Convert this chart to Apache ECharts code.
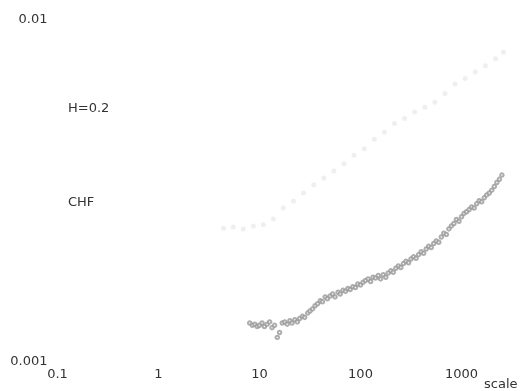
<!DOCTYPE html>
<html>
<head>
<meta charset="utf-8">
<script src="https://cdn.jsdelivr.net/npm/echarts@6/dist/echarts.min.js"></script>
<style>
  html, body { margin: 0; padding: 0; background: #fff; }
  #chart { width: 524px; height: 391px; }
</style>
</head>
<body>
<div id="chart"></div>
<script>
// tick labels
const xTicks = ['0.1', '1', '10', '100', '1000'];
const yTicks = ['0.001', '0.01'];

// CHF series (scale, DFA/scale)
const chfScale = [8, 8.5, 9, 9.5, 10, 10.6, 11.2, 11.9, 12.6, 13.3, 14.1, 15, 15.8, 16.8, 17.8, 18.8,
  20, 21, 22.4, 23.7, 25, 26.6, 28, 30, 31.6, 33.5, 35.5, 37.6, 40, 42, 44.7, 47, 50, 53, 56, 60,
  63, 67, 71, 75, 79, 84, 89, 94, 100, 106, 112, 119, 126, 133, 141, 150, 158, 168, 178, 188,
  200, 211, 224, 237, 251, 266, 282, 299, 316, 335, 355, 376, 398, 422, 447, 473, 501, 531, 562,
  596, 631, 668, 708, 750, 794, 841, 891, 944, 1000, 1059, 1122, 1189, 1259, 1334, 1413, 1496,
  1585, 1679, 1778, 1884, 1995, 2113, 2239, 2371, 2512];
const chfValue = [0.00130, 0.00128, 0.00129, 0.00127, 0.00128, 0.00130, 0.00127, 0.00129, 0.00131, 0.00126,
  0.00128, 0.00118, 0.00122, 0.00130, 0.00131, 0.00129,
  0.00132, 0.00130, 0.00133, 0.00131, 0.00134, 0.00136, 0.00135, 0.00139, 0.00141, 0.00143, 0.00146,
  0.00148, 0.00151, 0.00150, 0.00155, 0.00153, 0.00156, 0.00158, 0.00155, 0.00160,
  0.00158, 0.00162, 0.00161, 0.00164, 0.00163, 0.00166, 0.00165, 0.00169, 0.00168, 0.00171, 0.00173,
  0.00175, 0.00172, 0.00177, 0.00176, 0.00179, 0.00175, 0.00180, 0.00177, 0.00182,
  0.00185, 0.00183, 0.00188, 0.00191, 0.00189, 0.00194, 0.00197, 0.00195, 0.00200, 0.00203, 0.00201,
  0.00206, 0.00210, 0.00208, 0.00214, 0.00218, 0.00216, 0.00222, 0.00226,
  0.00224, 0.00232, 0.00238, 0.00236, 0.00245, 0.00250, 0.00254, 0.00261, 0.00258, 0.00266, 0.00272,
  0.00275, 0.00279, 0.00284, 0.00282, 0.00290, 0.00296,
  0.00294, 0.00302, 0.00308, 0.00312, 0.00318, 0.00326, 0.00335, 0.00342, 0.00352];

// faint H=0.2 series
const hScale = [4.4, 5.5, 6.9, 8.7, 10.9, 13.7, 17.2, 21.7, 27.3, 34.4, 43.3, 54.5, 68.6, 86.4, 108.8,
  137, 172, 217, 273, 344, 433, 545, 686, 864, 1088, 1370, 1725, 2172, 2600];
const hValue = [0.00246, 0.00248, 0.00245, 0.00250, 0.00252, 0.00262, 0.00282, 0.00295, 0.00312, 0.00330,
  0.00345, 0.00362, 0.00380, 0.00402, 0.00420, 0.00448, 0.00470, 0.00498, 0.00515, 0.00538, 0.00556,
  0.00575, 0.00610, 0.00650, 0.00675, 0.00705, 0.00735, 0.00770, 0.00805];

const FONT = 'DejaVu Sans';
const TXT = '#333';

function tickLabel(list) {
  return (v) => {
    const s = String(Number(v.toPrecision(6)));
    return list.includes(s) ? s : '';
  };
}

const chart = echarts.init(document.getElementById('chart'), null, { renderer: 'canvas' });
chart.setOption({
  backgroundColor: '#fff',
  animation: false,
  textStyle: { fontFamily: FONT },
  grid: { left: 57.5, right: 12, top: 20, bottom: 29, outerBoundsMode: 'none', containLabel: false },
  xAxis: {
    type: 'log', min: 0.1, max: 3162.28,
    name: 'scale', nameLocation: 'end', nameGap: -28,
    nameTextStyle: { fontFamily: FONT, fontSize: 13, color: TXT, align: 'left', verticalAlign: 'top', padding: [16, 0, 0, 0] },
    axisLine: { show: false }, axisTick: { show: false }, splitLine: { show: false },
    axisLabel: { fontFamily: FONT, fontSize: 13, color: TXT, margin: 6, showMaxLabel: false, formatter: tickLabel(xTicks) }
  },
  yAxis: {
    type: 'log', min: 0.001, max: 0.01, splitNumber: 1,
    name: 'DFA/scale', nameLocation: 'middle', nameGap: 28, nameRotate: 90,
    nameTextStyle: { fontFamily: FONT, fontSize: 13, color: TXT },
    axisLine: { show: false }, axisTick: { show: false }, splitLine: { show: false },
    axisLabel: { fontFamily: FONT, fontSize: 13, color: TXT, margin: 10, formatter: tickLabel(yTicks) }
  },
  graphic: [
    { type: 'text', left: 68, top: 102, style: { text: 'H=0.2', font: '13px "DejaVu Sans"', fill: TXT } },
    { type: 'text', left: 68, top: 196, style: { text: 'CHF', font: '13px "DejaVu Sans"', fill: TXT } }
  ],
  series: [
    {
      name: 'H=0.2', type: 'scatter',
      data: hScale.map((x, i) => [x, hValue[i]]),
      symbol: 'circle', symbolSize: 5,
      itemStyle: { color: '#efefef', opacity: 1 }
    },
    {
      name: 'CHF', type: 'scatter',
      data: chfScale.map((x, i) => [x, chfValue[i]]),
      symbol: 'emptyCircle', symbolSize: 3.5,
      itemStyle: { color: '#999', borderColor: '#999', borderWidth: 0.7 }
    }
  ]
});
</script>
</body>
</html>
